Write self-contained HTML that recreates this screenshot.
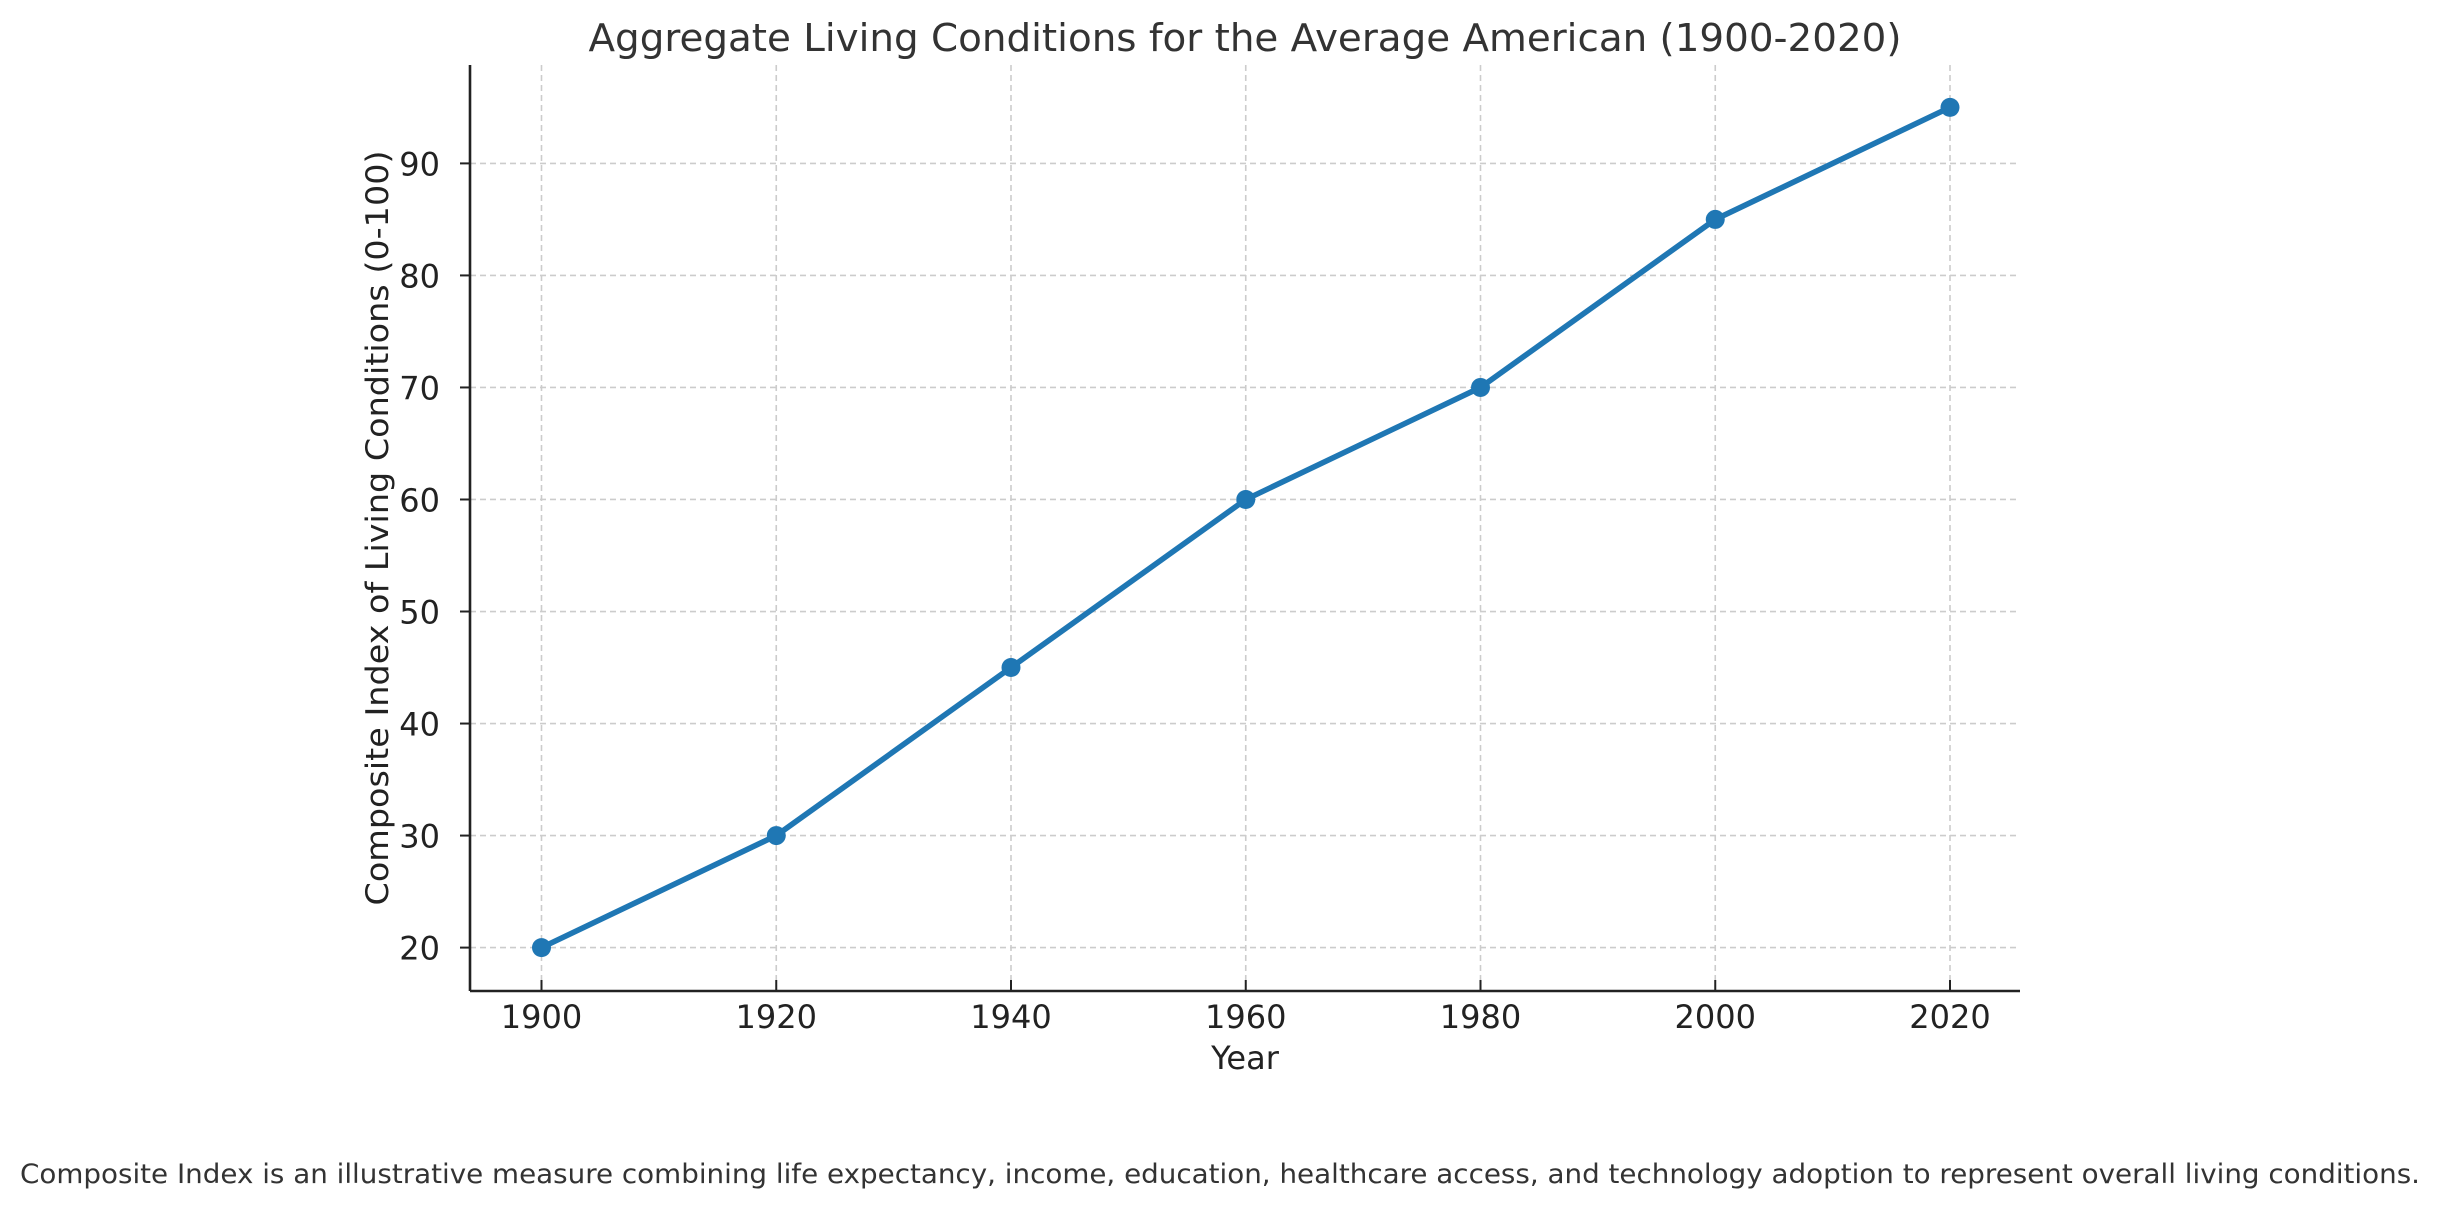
<!DOCTYPE html>
<html><head><meta charset="utf-8"><style>
html,body{margin:0;padding:0;background:#fff}
svg{display:block;font-family:"DejaVu Sans","Liberation Sans",sans-serif}
</style></head><body>
<svg id="chart" width="2440" height="1208" viewBox="0 0 2440 1208" xmlns="http://www.w3.org/2000/svg">
<text x="1245" y="51" text-anchor="middle" font-size="38" fill="#333" textLength="1313" lengthAdjust="spacingAndGlyphs">Aggregate Living Conditions for the Average American (1900-2020)</text>
<g id="grid"></g>
<g id="axes"></g>
<g id="series"></g>
<text x="1245" y="1069" text-anchor="middle" font-size="32" fill="#222">Year</text>
<text transform="translate(388,528) rotate(-90)" text-anchor="middle" font-size="31" fill="#222" textLength="755" lengthAdjust="spacingAndGlyphs">Composite Index of Living Conditions (0-100)</text>
<text x="1220" y="1183" text-anchor="middle" font-size="27" fill="#333" textLength="2400" lengthAdjust="spacingAndGlyphs">Composite Index is an illustrative measure combining life expectancy, income, education, healthcare access, and technology adoption to represent overall living conditions.</text>
</svg>
<script>
const years = [1900, 1920, 1940, 1960, 1980, 2000, 2020];
const values = [20, 30, 45, 60, 70, 85, 95];
const yTicks = [20, 30, 40, 50, 60, 70, 80, 90];
const xTicks = [1900, 1920, 1940, 1960, 1980, 2000, 2020];

const NS = "http://www.w3.org/2000/svg";
const L = 470, R = 2020, T = 65, B = 991;
function xs(v){ return 541.5 + (v - 1900) * (1950 - 541.5) / 120; }
function ys(v){ return 947.6 - (v - 20) * (947.6 - 163.4) / 70; }
function mk(tag, attrs, parent){
  const e = document.createElementNS(NS, tag);
  for (const k in attrs) e.setAttribute(k, attrs[k]);
  parent.appendChild(e); return e;
}
const grid = document.getElementById('grid');
const axes = document.getElementById('axes');
const series = document.getElementById('series');

xTicks.forEach(t => {
  const x = xs(t);
  const g = mk('line', {x1:x, x2:x, y1:T, y2:B, stroke:'#ccc', 'stroke-width':1.6, 'stroke-dasharray':'6,4'}, grid);
  
  
  const tk = mk('line', {x1:x, x2:x, y1:B, y2:B-11, stroke:'#222', 'stroke-width':2}, axes);
  
  
  const lb = mk('text', {x:x, y:1028, 'text-anchor':'middle', 'font-size':32, fill:'#222'}, axes);
  lb.textContent = t;
  
  
});
yTicks.forEach(t => {
  const y = ys(t);
  const g = mk('line', {x1:L, x2:R, y1:y, y2:y, stroke:'#ccc', 'stroke-width':1.6, 'stroke-dasharray':'6,4'}, grid);
  
  
  const tk = mk('line', {x1:L, x2:L-10, y1:y, y2:y, stroke:'#222', 'stroke-width':2}, axes);
  
  
  const lb = mk('text', {x:440, y:y+12, 'text-anchor':'end', 'font-size':32, fill:'#222'}, axes);
  lb.textContent = t;
  
  
});
const ya = mk('line', {x1:L, x2:L, y1:T, y2:B, stroke:'#222', 'stroke-width':2.6}, axes);


const xa = mk('line', {x1:L, x2:R, y1:B, y2:B, stroke:'#222', 'stroke-width':2.6}, axes);



const pts = years.map((yr, i) => xs(yr) + ',' + ys(values[i])).join(' ');
const line = mk('polyline', {points:pts, fill:'none', stroke:'#1f77b4', 'stroke-width':5.6, 'stroke-linejoin':'round', 'stroke-linecap':'round'}, series);


years.forEach((yr, i) => {
  const c = mk('circle', {cx:xs(yr), cy:ys(values[i]), r:9.5, fill:'#1f77b4'}, series);
  
  
});
</script>
</body></html>
